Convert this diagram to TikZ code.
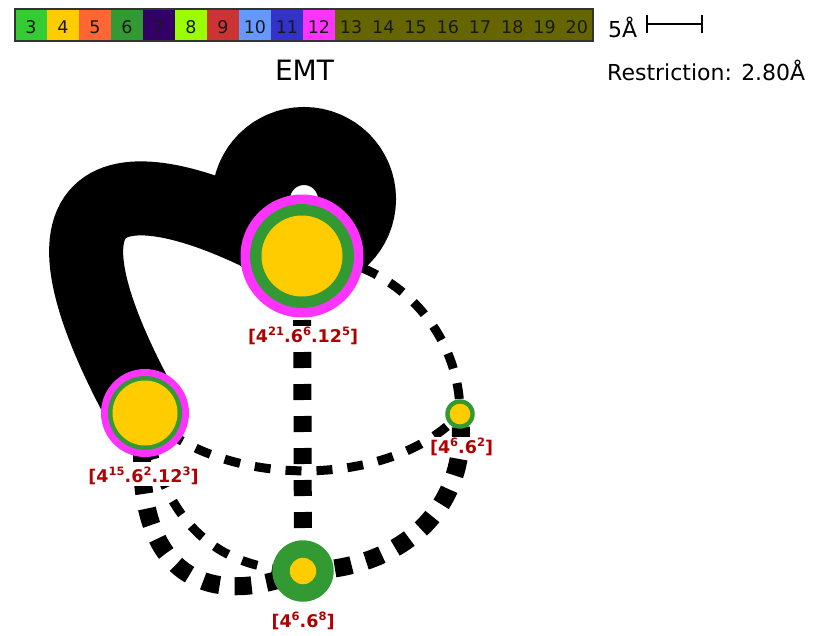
\documentclass[tikz,border=0pt]{standalone}
\usepackage{fontspec}
\setmainfont{DejaVu Sans}
\definecolor{cThree}{HTML}{33CC33}
\definecolor{cFour}{HTML}{FFCC00}
\definecolor{cFive}{HTML}{FF6633}
\definecolor{cSix}{HTML}{339933}
\definecolor{cSeven}{HTML}{330066}
\definecolor{cEight}{HTML}{99FF00}
\definecolor{cNine}{HTML}{CC3333}
\definecolor{cTen}{HTML}{6699FF}
\definecolor{cEleven}{HTML}{3333CC}
\definecolor{cTwelve}{HTML}{FF33FF}
\definecolor{cOlive}{HTML}{666600}
\definecolor{cRed}{HTML}{B00000}
\definecolor{cFrame}{HTML}{333333}
\newcommand\sps[1]{\raisebox{7.3pt}{\fontsize{11.5pt}{12pt}\selectfont #1}}
\begin{document}
\begin{tikzpicture}[x=1pt,y=-1pt,
  cellbox/.style={rectangle, draw=none, minimum width=32pt, minimum height=32pt, inner sep=0pt},
  cellnum/.style={anchor=base, inner sep=0pt, text=black!90, font=\fontsize{17.5pt}{19pt}\selectfont},
  disc/.style={circle, draw=none, inner sep=0pt},
  thindash/.style={line width=9pt, dash pattern=on 16pt off 15pt},
  thickdash/.style={line width=18pt, dash pattern=on 17pt off 15pt},
  lbl/.style={fill=white, inner sep=1pt, text=cRed, font=\fontsize{17.5pt}{20pt}\selectfont\bfseries},
  hdr/.style={inner sep=0pt, font=\fontsize{22pt}{24pt}\selectfont}]
\useasboundingbox (0,0) rectangle (814,635);
% colour bar
\foreach \n/\c [count=\i from 0] in {3/cThree,4/cFour,5/cFive,6/cSix,7/cSeven,8/cEight,9/cNine,10/cTen,11/cEleven,12/cTwelve}{
  \node[cellbox, fill=\c] (cell\n) at (31+32*\i,25) {};
  \node[cellnum] (num\n) at (31+32*\i,33) {\n};
}
\node[rectangle, fill=cOlive, minimum width=258pt, minimum height=32pt, inner sep=0pt] (cellrest) at (464,25) {};
\foreach \n [count=\i from 0] in {13,14,15,16,17,18,19,20}{
  \node[cellnum] (num\n) at (335+32.25*\i+16.1,33) {\n};
}
\draw[line width=2pt, cFrame] (15,9) rectangle (593,41);
% scale bar
\node[hdr, anchor=base west] (five) at (608,37) {5Å};
\coordinate (sbl) at (647,24);
\coordinate (sbr) at (702,24);
\draw[line width=1.3pt] (sbl) -- (sbr);
\draw[line width=1.3pt] (647,15) -- (647,33);
\draw[line width=1.3pt] (702,15) -- (702,33);
\node[hdr, anchor=base west] (restr) at (607,80) {Restriction: 2.80Å};
\node[hdr, anchor=base, font=\fontsize{28pt}{30pt}\selectfont] (title) at (304.5,80) {EMT};
% node centres
\coordinate (A) at (302,256);
\coordinate (B) at (145,413);
\coordinate (C) at (460,414);
\coordinate (D) at (303,571);
\coordinate (Aloop) at (304,199);
% edges
\draw[line width=78pt] (Aloop) circle[radius=53pt];
\draw[line width=74pt] (B) .. controls (0,150) and (150,170) .. (A);
\draw[thindash] (A) .. controls (389,256) and (460,327) .. (C);
\draw[thindash] (B) .. controls (220,490) and (390,490) .. (C);
\draw[thindash] (B) .. controls (160,520) and (215,570) .. (D);
\draw[thickdash, dash pattern=on 16pt off 16pt] (A) -- (D);
\draw[thickdash] (B) .. controls (125,580) and (210,610) .. (D);
\draw[thickdash] (D) .. controls (400,570) and (470,510) .. (C);
% nodes
\node[disc, fill=cTwelve, minimum size=123pt] (Am) at (A) {};
\node[disc, fill=cSix, minimum size=104pt] (Ag) at (A) {};
\node[disc, fill=cFour, minimum size=81pt] (Ay) at (A) {};
\node[disc, fill=cTwelve, minimum size=88pt] (Bm) at (B) {};
\node[disc, fill=cSix, minimum size=74pt] (Bg) at (B) {};
\node[disc, fill=cFour, minimum size=65pt] (By) at (B) {};
\node[disc, fill=cSix, minimum size=29.5pt] (Cg) at (C) {};
\node[disc, fill=cFour, minimum size=20.6pt] (Cy) at (C) {};
\node[disc, fill=cSix, minimum size=61.5pt] (Dg) at (D) {};
\node[disc, fill=cFour, minimum size=26.4pt] (Dy) at (D) {};
% labels
\node[lbl] (LA) at (303,336) {[4\sps{21}.6\sps{6}.12\sps{5}]};
\node[lbl] (LB) at (143.5,476) {[4\sps{15}.6\sps{2}.12\sps{3}]};
\node[lbl] (LC) at (461.5,447) {[4\sps{6}.6\sps{2}]};
\node[lbl] (LD) at (303,621) {[4\sps{6}.6\sps{8}]};
\end{tikzpicture}
\end{document}
